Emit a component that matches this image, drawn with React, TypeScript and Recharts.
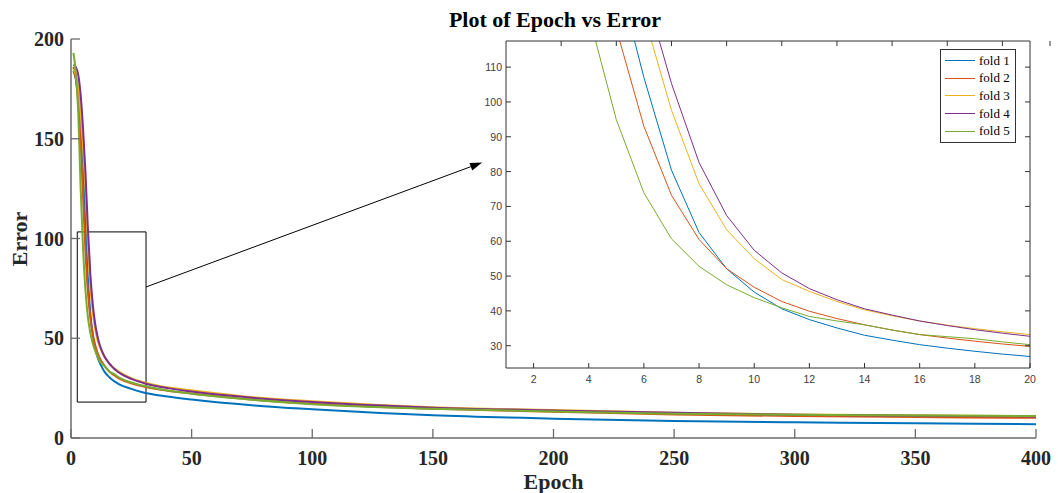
import React from "react";
import {
  LineChart,
  Line,
  XAxis,
  YAxis,
  ReferenceArea,
  ReferenceLine,
  Legend,
} from "recharts";

const epochs = [
  1, 2, 3, 4, 5, 6, 7, 8, 9, 10, 11, 12, 13, 14, 15, 16, 17, 18, 19, 20, 25, 30,
  40, 50, 75, 100, 150, 200, 250, 300, 350, 400,
];

const fold1 = [
  184, 180, 172, 157, 138, 107, 80.4, 62.5, 52.1, 45.4, 40.6, 37.5, 35.1, 33.0,
  31.6, 30.3, 29.3, 28.4, 27.6, 26.9, 24.6, 22.8, 20.8, 19.3, 16.4, 14.4, 11.4,
  9.7, 8.5, 7.9, 7.4, 6.9,
];
const fold2 = [
  186, 180, 168, 148, 121, 93, 73.2, 60.5, 52.1, 46.8, 42.7, 39.9, 37.8, 36.0,
  34.5, 33.2, 32.2, 31.3, 30.5, 29.8, 27.4, 25.8, 23.7, 22.3, 19.3, 17.2, 14.7,
  13.2, 11.8, 11.0, 10.5, 10.1,
];
const fold3 = [
  185, 182, 176, 163, 146, 125, 97.6, 76.5, 63.3, 55.0, 49.0, 45.6, 42.7, 40.3,
  38.6, 37.1, 35.9, 34.9, 34.0, 33.2, 30.0, 28.0, 25.4, 23.9, 20.5, 18.4, 15.4,
  14.0, 12.7, 11.8, 11.4, 11.0,
];
const fold4 = [
  187, 186, 182, 172, 155, 133, 105.3, 82.6, 67.4, 57.4, 50.9, 46.4, 43.2, 40.6,
  38.8, 37.1, 35.8, 34.6, 33.6, 32.7, 29.6, 27.6, 25.0, 23.3, 20.2, 18.0, 15.2,
  13.8, 12.6, 11.7, 11.2, 10.8,
];
const fold5 = [
  193, 183, 163, 125, 94.9, 73.9, 60.7, 52.8, 47.5, 43.8, 40.9, 38.4, 37.1, 36.0,
  34.5, 33.2, 32.6, 32.0, 31.1, 30.3, 27.8, 26.2, 23.8, 22.2, 19.2, 16.9, 14.6,
  13.3, 12.1, 11.6, 11.3, 11.0,
];

const foldNames = ["fold 1", "fold 2", "fold 3", "fold 4", "fold 5"];
const foldColors = ["#0072BD", "#D95319", "#EDB120", "#7E2F8E", "#77AC30"];

const mainXTicks = [0, 50, 100, 150, 200, 250, 300, 350, 400];
const mainYTicks = [0, 50, 100, 150, 200];
const insetXTicks = [2, 4, 6, 8, 10, 12, 14, 16, 18, 20];
const insetYTicks = [30, 40, 50, 60, 70, 80, 90, 100, 110];

// zoom box and arrow, in data units of the main chart
const zoomBox = { x1: 2.6, x2: 31.1, y1: 18, y2: 103.3 };
const arrowFrom = { x: 31.1, y: 75.7 };
const arrowTo = { x: 170.4, y: 138.1 };

const folds = [fold1, fold2, fold3, fold4, fold5];
const rows = epochs.map((e, i) => {
  const r: any = { epoch: e };
  folds.forEach((f, k) => (r[foldNames[k]] = f[i]));
  return r;
});
const insetRows = rows.filter((r) => r.epoch <= 20);

const serif = "'Liberation Serif', 'Times New Roman', serif";
const sans = "'Liberation Sans', Arial, sans-serif";
const mainAxis = "#6b6b6b";
const insetAxis = "#333";

const MainYTick = (p: any) => (
  <g>
    <line x1={p.x} y1={p.y} x2={p.x + 9} y2={p.y} stroke={mainAxis} strokeWidth={1.3} />
    <text x={p.x - 7} y={p.y + 7} textAnchor="end" fontFamily={serif} fontWeight="bold" fontSize={20} fill="#262626">
      {p.payload.value}
    </text>
  </g>
);

const MainXTick = (p: any) => (
  <g>
    <line x1={p.x} y1={p.y} x2={p.x} y2={p.y - 9} stroke={mainAxis} strokeWidth={1.3} />
    <text x={p.x} y={p.y + 27} textAnchor="middle" fontFamily={serif} fontWeight="bold" fontSize={20} fill="#262626">
      {p.payload.value}
    </text>
  </g>
);

const InsetYTick = (p: any) => (
  <g>
    <line x1={p.x} y1={p.y} x2={p.x + 5} y2={p.y} stroke={insetAxis} />
    <text x={p.x - 4} y={p.y + 4} textAnchor="end" fontFamily={sans} fontSize={10.5} fill="#404040">
      {p.payload.value}
    </text>
  </g>
);

const InsetXTick = (p: any) => (
  <g>
    <line x1={p.x} y1={p.y} x2={p.x} y2={p.y - 5} stroke={insetAxis} />
    <text x={p.x} y={p.y + 15} textAnchor="middle" fontFamily={sans} fontSize={10.5} fill="#404040">
      {p.payload.value}
    </text>
  </g>
);

const TopTick = (p: any) => (
  <line x1={p.x} y1={p.y} x2={p.x} y2={p.y + 5} stroke={insetAxis} />
);
const RightTick = (p: any) => (
  <line x1={p.x} y1={p.y} x2={p.x - 5} y2={p.y} stroke={insetAxis} />
);

const Arrow = (p: any) => {
  const { x1, y1, x2, y2 } = p;
  const dx = x2 - x1;
  const dy = y2 - y1;
  const len = Math.sqrt(dx * dx + dy * dy);
  const ux = dx / len;
  const uy = dy / len;
  const bx = x2 - ux * 12;
  const by = y2 - uy * 12;
  const pts = `${x2},${y2} ${bx - uy * 4},${by + ux * 4} ${bx + uy * 4},${by - ux * 4}`;
  return (
    <g>
      <line x1={x1} y1={y1} x2={bx} y2={by} stroke="#000" strokeWidth={1} />
      <polygon points={pts} fill="#000" />
    </g>
  );
};

const LegendBox = () => (
  <div
    style={{
      border: "1px solid #333",
      background: "#fff",
      width: 74,
      padding: "2px 0",
      fontFamily: serif,
      fontSize: 13,
      color: "#000",
    }}
  >
    {foldNames.map((n, i) => (
      <div key={n} style={{ display: "flex", alignItems: "center", height: 17.6 }}>
        <div style={{ width: 30, height: 0, borderTop: `1.5px solid ${foldColors[i]}`, marginLeft: 4, marginRight: 4 }} />
        <span>{n}</span>
      </div>
    ))}
  </div>
);

const App = () => {
  return (
    <div style={{ position: "absolute", left: 0, top: 0, width: 1058, height: 493, background: "#fff" }}>
      <LineChart
        width={1058}
        height={493}
        data={rows}
        margin={{ top: 39, right: 22, bottom: 25, left: 31 }}
        style={{ position: "absolute", left: 0, top: 0 }}
      >
        <XAxis
          dataKey="epoch"
          type="number"
          domain={[0, 400]}
          ticks={mainXTicks}
          height={30}
          tickSize={0}
          tickMargin={0}
          tickLine={false}
          tick={<MainXTick />}
          axisLine={{ stroke: mainAxis, strokeWidth: 1.5 }}
          label={(lp: any) => (
            <text
              x={lp.viewBox.x + lp.viewBox.width / 2}
              y={lp.viewBox.y + 51}
              textAnchor="middle"
              fontFamily={serif}
              fontWeight="bold"
              fontSize={22}
              fill="#262626"
            >
              Epoch
            </text>
          )}
        />
        <YAxis
          type="number"
          domain={[0, 200]}
          ticks={mainYTicks}
          width={40}
          tickSize={0}
          tickMargin={0}
          tickLine={false}
          tick={<MainYTick />}
          axisLine={{ stroke: mainAxis, strokeWidth: 1.5 }}
          label={() => (
            <text
              x={27}
              y={239}
              transform="rotate(-90 27 239)"
              textAnchor="middle"
              fontFamily={serif}
              fontWeight="bold"
              fontSize={22}
              fill="#262626"
            >
              Error
            </text>
          )}
        />
        {foldNames.map((n, i) => (
          <Line
            key={n}
            dataKey={n}
            type="monotone"
            stroke={foldColors[i]}
            strokeWidth={2}
            dot={false}
            isAnimationActive={false}
          />
        ))}
        <ReferenceArea
          x1={zoomBox.x1}
          x2={zoomBox.x2}
          y1={zoomBox.y1}
          y2={zoomBox.y2}
          fill="none"
          stroke="#000"
          strokeWidth={1}
        />
        <ReferenceLine segment={[arrowFrom, arrowTo]} shape={<Arrow />} />
      </LineChart>

      <LineChart
        width={1058}
        height={493}
        data={insetRows}
        margin={{ top: 31, right: 18, bottom: 100, left: 466 }}
        style={{ position: "absolute", left: 0, top: 0 }}
      >
        <XAxis
          xAxisId="b"
          dataKey="epoch"
          type="number"
          domain={[1, 20]}
          ticks={insetXTicks}
          height={25}
          tickSize={0}
          tickMargin={0}
          tickLine={false}
          tick={<InsetXTick />}
          axisLine={{ stroke: insetAxis }}
        />
        <XAxis
          xAxisId="t"
          orientation="top"
          type="number"
          domain={[1, 20]}
          allowDataOverflow
          ticks={insetXTicks}
          height={10}
          tickSize={0}
          tickMargin={0}
          tickLine={false}
          tick={<TopTick />}
          axisLine={{ stroke: insetAxis }}
        />
        <YAxis
          yAxisId="l"
          type="number"
          domain={[23.6, 117.5]}
          allowDataOverflow
          ticks={insetYTicks}
          width={40}
          tickSize={0}
          tickMargin={0}
          tickLine={false}
          tick={<InsetYTick />}
          axisLine={{ stroke: insetAxis }}
        />
        <YAxis
          yAxisId="r"
          orientation="right"
          type="number"
          domain={[23.6, 117.5]}
          allowDataOverflow
          ticks={insetYTicks}
          width={10}
          tickSize={0}
          tickMargin={0}
          tickLine={false}
          tick={<RightTick />}
          axisLine={{ stroke: insetAxis }}
        />
        {foldNames.map((n, i) => (
          <Line
            key={n}
            xAxisId="b"
            yAxisId="l"
            dataKey={n}
            type="linear"
            stroke={foldColors[i]}
            strokeWidth={1}
            dot={false}
            isAnimationActive={false}
          />
        ))}
        <Legend
          layout="horizontal"
          verticalAlign="middle"
          align="center"
          content={<LegendBox />}
          wrapperStyle={{ position: "absolute", left: 940, top: 49, width: "auto" }}
        />
      </LineChart>

      <div
        style={{
          position: "absolute",
          left: 355,
          top: 7,
          width: 400,
          textAlign: "center",
          fontFamily: serif,
          fontWeight: "bold",
          fontSize: 22,
          lineHeight: "25px",
          color: "#000",
        }}
      >
        Plot of Epoch vs Error
      </div>
    </div>
  );
};

export default App;
